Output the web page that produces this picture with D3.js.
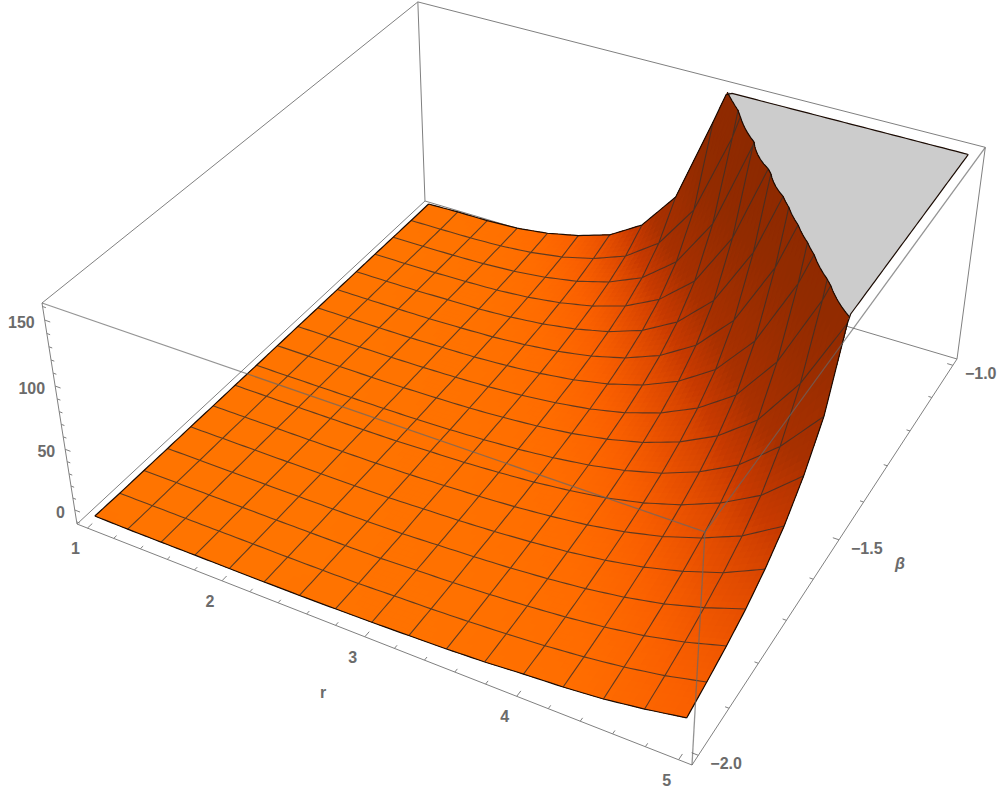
<!DOCTYPE html>
<html>
<head>
<meta charset="utf-8">
<script src="https://cdn.jsdelivr.net/npm/d3@7"></script>
<style>
  body { margin: 0; background: #fff; }
  text { font-family: "Liberation Sans", Arial, sans-serif; font-size: 16px; font-weight: bold; fill: #6b6b6b; }
</style>
</head>
<body>
<div id="chart"></div>
<script>
// mesh nodes of the surface
const rValues = [1, 1.25, 1.5, 1.75, 2, 2.25, 2.5, 2.75, 3, 3.25, 3.5, 3.75, 4, 4.25, 4.5, 4.75, 5];
const betaValues = [-2, -1.9375, -1.875, -1.8125, -1.75, -1.6875, -1.625, -1.5625, -1.5, -1.4375, -1.375, -1.3125, -1.25, -1.1875, -1.125, -1.0625, -1];

// height, one row per beta, one column per r
const zRows = [
  [-8, -8.3, -8.3, -8.2, -8.2, -8.1, -7.9, -7.4, -6.8, -5.9, -4.9, -3.4, -1, 0.9, 3.8, 8.4, 14.1],
  [-8.3, -8.3, -8.3, -8.3, -8.2, -8.2, -8, -7.7, -6.6, -5.7, -4.4, -2.7, -0.4, 2.6, 6.6, 12, 19.3],
  [-8.2, -8.2, -8.2, -8.2, -8.2, -8.1, -7.9, -7.6, -6.3, -5.2, -3.6, -1.6, 1.1, 4.7, 9.6, 16.4, 25.3],
  [-8.2, -8.2, -8.2, -8.2, -8.1, -8, -7.8, -7.3, -5.9, -4.5, -2.8, -0.3, 2.9, 7.4, 13.5, 22.1, 32.7],
  [-8.1, -8.1, -8.1, -8.1, -8, -7.8, -7.5, -6.4, -5.4, -3.8, -1.6, 1.3, 5.3, 10.9, 18.7, 28.9, 43],
  [-8.1, -8.1, -8, -8, -7.9, -7.7, -7.2, -6.1, -4.7, -2.9, -0.2, 3.3, 8.4, 15.4, 25.2, 37.8, 56.5],
  [-8, -8, -8, -7.9, -7.8, -7.5, -6.5, -5.6, -3.9, -1.7, 1.6, 6, 12.4, 21.4, 33.6, 50.2, 76],
  [-8, -8, -7.9, -7.8, -7.6, -7.2, -6.3, -4.9, -3, -0.1, 3.9, 9.6, 17.6, 29.1, 45, 69.8, 103],
  [-7.9, -7.9, -7.8, -7.7, -7.4, -6.7, -5.8, -4.1, -1.7, 1.9, 7, 14.2, 24.7, 39.7, 62.3, 100.8, 155],
  [-7.8, -7.8, -7.7, -7.6, -7.2, -6.4, -5.2, -3.1, 0.1, 4.5, 11, 20.6, 34.4, 54.7, 90.6, 146.9, 219],
  [-7.8, -7.8, -7.7, -7.5, -6.8, -6, -4.3, -1.7, 2.2, 8.1, 16.6, 29.3, 48.5, 80.8, 134.6, 207, 300],
  [-7.7, -7.7, -7.6, -7.3, -6.5, -5.4, -3.2, 0.2, 5.3, 12.9, 24.3, 42.1, 71.6, 122.3, 195, 290, 400],
  [-7.6, -7.6, -7.5, -6.8, -6.3, -4.6, -1.7, 2.8, 9.5, 19.6, 35.8, 62.6, 110, 182, 280, 400, 520],
  [-7.5, -7.5, -7.3, -6.7, -5.7, -3.4, 0.5, 6.3, 15.2, 29.7, 53.9, 97.9, 170, 280, 400, 520, 640],
  [-7.5, -7.5, -7.2, -6.5, -4.8, -1.7, 3.3, 11.3, 23.6, 45.8, 85.9, 157, 270, 400, 520, 640, 760],
  [-7.5, -7.3, -7, -6, -3.6, 0.7, 7.7, 18.3, 37.9, 74.3, 141.7, 234, 360, 480, 600, 720, 840],
  [-7.3, -6.6, -6.5, -5.3, -1.7, 4.4, 13.3, 30.2, 62.6, 132.7, 206, 320, 440, 560, 680, 800, 920]
];

const zCap = 159.2;
const rTickLabels = [1, 2, 3, 4, 5];
const betaTickLabels = [-2, -1.5, -1];
const zTickLabels = [0, 50, 100, 150];

// box domains, the plot range with its 2% padding
const rScale = d3.scaleLinear().domain([0.92, 5.08]).range([0, 1]);
const betaScale = d3.scaleLinear().domain([-2.02, -0.98]).range([0, 1]);
const zScale = d3.scaleLinear().domain([-11.8, 162.6]).range([0, 1]);

// perspective camera: box coordinates to pixels
const camX = [531.7, 439.79, -37.94, 77];
const camY = [148.91, -279.59, -242.21, 524];
const camD = [-0.12038, 0.21598, -0.07, 1];

function project(r, beta, z) {
  let p = [rScale(r), betaScale(beta), zScale(z), 1];
  let d = d3.sum(camD, (c, k) => c * p[k]);
  return [d3.sum(camX, (c, k) => c * p[k]) / d, d3.sum(camY, (c, k) => c * p[k]) / d];
}

let width = 1000;
let height = 794;
let svg = d3.select("#chart").append("svg")
  .attr("width", width)
  .attr("height", height);

let line = d3.line();
let rIndex = d3.scaleLinear().domain(d3.range(rValues.length)).range(rValues);
let betaIndex = d3.scaleLinear().domain(d3.range(betaValues.length)).range(betaValues);
let nI = rValues.length - 1;
let nJ = betaValues.length - 1;

// colour follows the steepness of the surface
let shadeColor = d3.scaleLinear()
  .domain([0, 0.15, 0.3, 0.5, 0.9, 1.5, 3, 5])
  .range(["#ff7400", "#ff6c00", "#fa6000", "#e85000", "#c83a00", "#a83000", "#922b00", "#8a2800"])
  .clamp(true);

let steepness = zRows.map((row, j) => row.map((z, i) => {
  let i0 = Math.max(i - 1, 0), i1 = Math.min(i + 1, nI);
  let j0 = Math.max(j - 1, 0), j1 = Math.min(j + 1, nJ);
  let su = (zScale(row[i1]) - zScale(row[i0])) / (rScale(rValues[i1]) - rScale(rValues[i0]));
  let sv = (zScale(zRows[j1][i]) - zScale(zRows[j0][i])) / (betaScale(betaValues[j1]) - betaScale(betaValues[j0]));
  return 0.4 * Math.hypot(su, sv);
}));

function bilinear(grid, fi, fj) {
  let i = Math.min(Math.floor(fi), nI - 1), j = Math.min(Math.floor(fj), nJ - 1);
  let a = fi - i, b = fj - j;
  return (grid[j][i] * (1 - a) + grid[j][i + 1] * a) * (1 - b)
    + (grid[j + 1][i] * (1 - a) + grid[j + 1][i + 1] * a) * b;
}

function node(fi, fj) {
  return { fi: fi, fj: fj, z: bilinear(zRows, fi, fj), s: bilinear(steepness, fi, fj) };
}

function toPixel(n, z) {
  return project(rIndex(n.fi), betaIndex(n.fj), z === undefined ? n.z : z);
}

function crossing(p, q) {
  let t = (zCap - p.z) / (q.z - p.z);
  return { fi: p.fi + (q.fi - p.fi) * t, fj: p.fj + (q.fj - p.fj) * t, z: zCap, s: p.s + (q.s - p.s) * t };
}

// keep the part of a small cell below (or above) the clipping plane
function clipCell(pts, keepBelow) {
  let out = [], seg = [];
  pts.forEach((p, k) => {
    let q = pts[(k + 1) % pts.length];
    let pIn = (p.z <= zCap) === keepBelow;
    let qIn = (q.z <= zCap) === keepBelow;
    if (pIn) out.push(p);
    if (pIn !== qIn) {
      let c = crossing(p, q);
      out.push(c);
      seg.push(c);
    }
  });
  return { out: out, seg: seg };
}

let subSteps = 6;
let surfacePolys = [];
let capPolys = [];
let contourSegs = [];

// far rows first, so nearer cells paint over them
for (let j = nJ - 1; j >= 0; j--) {
  for (let i = 0; i < nI; i++) {
    for (let b = subSteps - 1; b >= 0; b--) {
      for (let a = 0; a < subSteps; a++) {
        let fi0 = i + a / subSteps, fi1 = i + (a + 1) / subSteps;
        let fj0 = j + b / subSteps, fj1 = j + (b + 1) / subSteps;
        let cell = [node(fi0, fj0), node(fi1, fj0), node(fi1, fj1), node(fi0, fj1)];
        let below = clipCell(cell, true);
        let above = clipCell(cell, false);
        if (below.out.length > 2) {
          surfacePolys.push({
            pts: below.out.map(n => toPixel(n)),
            color: shadeColor(d3.mean(below.out, n => n.s))
          });
        }
        if (above.out.length > 2) capPolys.push(above.out.map(n => toPixel(n, zCap)));
        if (below.seg.length === 2) contourSegs.push(below.seg.map(n => toPixel(n)));
      }
    }
  }
}

// box edges that lie behind the surface
function boxPoint(r, beta, z) { return project(r, beta, z); }
let rLo = rScale.domain()[0], rHi = rScale.domain()[1];
let bLo = betaScale.domain()[0], bHi = betaScale.domain()[1];
let zLo = zScale.domain()[0], zHi = zScale.domain()[1];

let backEdges = [
  [[rLo, bLo, zLo], [rHi, bLo, zLo]],
  [[rHi, bLo, zLo], [rHi, bHi, zLo]],
  [[rLo, bLo, zLo], [rLo, bHi, zLo]],
  [[rLo, bHi, zLo], [rHi, bHi, zLo]],
  [[rLo, bLo, zLo], [rLo, bLo, zHi]],
  [[rLo, bHi, zLo], [rLo, bHi, zHi]],
  [[rHi, bHi, zLo], [rHi, bHi, zHi]],
  [[rLo, bLo, zHi], [rLo, bHi, zHi]],
  [[rLo, bHi, zHi], [rHi, bHi, zHi]]
];
let frontEdges = [
  [[rLo, bLo, zHi], [rHi, bLo, zHi]],
  [[rHi, bLo, zHi], [rHi, bHi, zHi]],
  [[rHi, bLo, zLo], [rHi, bLo, zHi]]
];

svg.append("g").selectAll("path")
  .data(backEdges)
  .enter()
  .append("path")
    .attr("d", e => line(e.map(p => boxPoint(p[0], p[1], p[2]))))
    .attr("fill", "none")
    .attr("stroke", "#808080")
    .attr("stroke-width", 1);

// ticks
function drawTicks(ticks, majors, toStart, toEnd, minorShare) {
  svg.append("g").selectAll("path")
    .data(ticks)
    .enter()
    .append("path")
      .attr("d", t => {
        let a = toStart(t);
        let b = toEnd(t);
        let share = majors.some(m => Math.abs(m - t) < 1e-6) ? 1 : minorShare;
        return line([a, [a[0] + (b[0] - a[0]) * share, a[1] + (b[1] - a[1]) * share]]);
      })
      .attr("fill", "none")
      .attr("stroke", "#808080")
      .attr("stroke-width", 1);
}

let rTicks = rScale.ticks(20);
let betaTicks = betaScale.ticks(10);
let zTicks = zScale.ticks(17);

drawTicks(rTicks, rTickLabels, t => project(t, bLo, zLo), t => project(t, bLo + 0.012, zLo), 0.6);
drawTicks(betaTicks, betaTickLabels, t => project(rHi, t, zLo), t => project(rHi - 0.04, t, zLo), 0.6);
drawTicks(zTicks, zTickLabels, t => project(rLo, bLo, t), t => project(rLo + 0.04, bLo, t), 0.6);

// grey cap where the surface is clipped
svg.append("g").selectAll("path")
  .data(capPolys)
  .enter()
  .append("path")
    .attr("d", d => line(d) + "Z")
    .attr("fill", "#cccccc")
    .attr("stroke", "#cccccc")
    .attr("stroke-width", 0.6)
    .attr("shape-rendering", "crispEdges");

svg.append("g").selectAll("path")
  .data(surfacePolys)
  .enter()
  .append("path")
    .attr("d", d => line(d.pts) + "Z")
    .attr("fill", d => d.color)
    .attr("stroke", d => d.color)
    .attr("stroke-width", 0.6)
    .attr("shape-rendering", "crispEdges");

// mesh lines, cut where they reach the plane
function meshPieces(nodes) {
  let pieces = [];
  for (let k = 0; k < nodes.length - 1; k++) {
    let p = nodes[k], q = nodes[k + 1];
    if (p.z <= zCap && q.z <= zCap) pieces.push([toPixel(p), toPixel(q)]);
    else if (p.z <= zCap) pieces.push([toPixel(p), toPixel(crossing(p, q))]);
    else if (q.z <= zCap) pieces.push([toPixel(crossing(p, q)), toPixel(q)]);
  }
  return pieces;
}

let meshSegs = [];
let fine = d3.range(0, nI * subSteps + 1).map(k => k / subSteps);
d3.range(1, nJ).forEach(j => { meshSegs.push(...meshPieces(fine.map(f => node(f, j)))); });
d3.range(1, nI).forEach(i => { meshSegs.push(...meshPieces(fine.map(f => node(i, f)))); });

svg.append("path")
  .attr("d", meshSegs.map(s => line(s)).join(""))
  .attr("fill", "none")
  .attr("stroke", "#3a3028")
  .attr("stroke-opacity", 0.8)
  .attr("stroke-width", 1.1);

// black outline of surface and cap
function borderNodes(f) { return fine.map(f); }
let borderSegs = [
  borderNodes(t => node(t, 0)),
  borderNodes(t => node(t, nJ)),
  borderNodes(t => node(0, t)),
  borderNodes(t => node(nI, t))
];
let outline = borderSegs.map(nodes => line(nodes.map(n => toPixel(n, Math.min(n.z, zCap))))).join("")
  + contourSegs.map(s => line(s)).join("");

svg.append("path")
  .attr("d", outline)
  .attr("fill", "none")
  .attr("stroke", "#1c0c04")
  .attr("stroke-width", 1.2);

// box edges in front of the surface
svg.append("g").selectAll("path")
  .data(frontEdges)
  .enter()
  .append("path")
    .attr("d", e => line(e.map(p => boxPoint(p[0], p[1], p[2]))))
    .attr("fill", "none")
    .attr("stroke", "#666666")
    .attr("stroke-opacity", 0.7)
    .attr("stroke-width", 1.3);

// tick labels
svg.append("g").selectAll("text")
  .data(rTickLabels)
  .enter()
  .append("text")
    .attr("x", t => project(t, bLo, zLo)[0] - 12)
    .attr("y", t => project(t, bLo, zLo)[1] + 26)
    .attr("text-anchor", "middle")
    .text(t => t);

svg.append("g").selectAll("text")
  .data(betaTickLabels)
  .enter()
  .append("text")
    .attr("x", t => project(rHi, t, zLo)[0] + 12)
    .attr("y", t => project(rHi, t, zLo)[1] + 14)
    .attr("text-anchor", "start")
    .text(t => "\u2212" + d3.format(".1f")(Math.abs(t)));

svg.append("g").selectAll("text")
  .data(zTickLabels)
  .enter()
  .append("text")
    .attr("x", t => project(rLo, bLo, t)[0] - 10)
    .attr("y", t => project(rLo, bLo, t)[1] + 8)
    .attr("text-anchor", "end")
    .text(t => t);

svg.append("text")
  .attr("x", 323)
  .attr("y", 698)
  .attr("text-anchor", "middle")
  .text("r");

svg.append("text")
  .attr("x", 900)
  .attr("y", 569)
  .attr("text-anchor", "middle")
  .style("font-style", "italic")
  .text("\u03b2");
</script>
</body>
</html>
